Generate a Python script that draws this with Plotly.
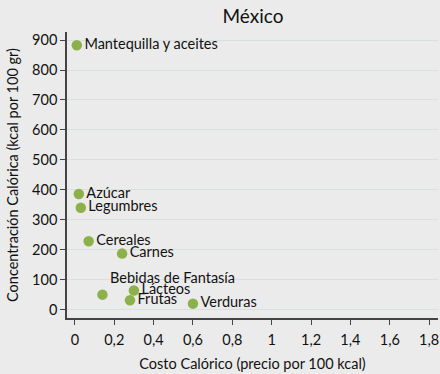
import plotly.graph_objects as go

categories = ["Mantequilla y aceites", "Azúcar", "Legumbres", "Cereales", "Carnes",
              "Bebidas de Fantasía", "Lácteos", "Frutas", "Verduras"]
costo = [0.01, 0.02, 0.03, 0.07, 0.24, 0.14, 0.30, 0.28, 0.60]
concentracion = [883, 386, 340, 228, 187, 50, 64, 31, 20]
x_ticks = [0, 0.2, 0.4, 0.6, 0.8, 1.0, 1.2, 1.4, 1.6, 1.8]
y_ticks = [0, 100, 200, 300, 400, 500, 600, 700, 800, 900]

positions = ["top right" if c == "Bebidas de Fantasía" else "middle right" for c in categories]

FONT = "Lato, 'Open Sans', sans-serif"
fig = go.Figure(go.Scatter(
    x=costo, y=concentracion, text=categories, mode="markers+text",
    textposition=positions,
    marker=dict(color="#8db14a", size=10.5),
    textfont=dict(family=FONT, size=14.5, color="#111111"),
    cliponaxis=False,
))

fig.update_layout(
    width=440, height=374,
    margin=dict(l=67, r=2, t=32, b=56),
    paper_bgcolor="#ebebeb", plot_bgcolor="#ebebeb",
    separators=", ",
    showlegend=False,
    font=dict(family=FONT, size=14.5, color="#111111"),
    title=dict(text="México", x=0.575, xanchor="center", y=0.955, yanchor="middle",
               font=dict(size=19, family=FONT, color="#111111")),
    xaxis=dict(range=[-0.04, 1.845], tickvals=x_ticks, showgrid=False, zeroline=False,
               automargin=False, ticklabelstandoff=3,
               showline=True, linecolor="#444444", linewidth=1.5,
               ticks="outside", ticklen=5, tickcolor="#444444",
               title=dict(text="Costo Calórico (precio por 100 kcal)", font=dict(size=14.5), standoff=12)),
    yaxis=dict(range=[-28, 927], tickvals=y_ticks, showgrid=True, gridcolor="#d9e0e0",
               automargin=False,
               zeroline=False, showline=True, linecolor="#444444", linewidth=1.5,
               ticks="outside", ticklen=5, tickcolor="#444444",
               title=dict(text="Concentración Calórica (kcal por 100 gr)", font=dict(size=14.5), standoff=10)),
)

fig.write_html("out.html", config={"displayModeBar": False},
               post_script="document.body.style.margin='0';document.body.style.overflow='hidden';")
